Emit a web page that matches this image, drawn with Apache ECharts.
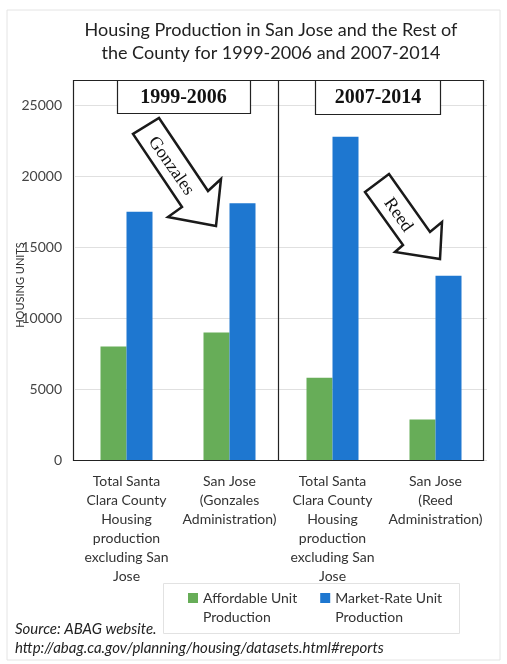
<!DOCTYPE html>
<html>
<head>
<meta charset="utf-8">
<script src="https://cdn.jsdelivr.net/npm/echarts@6/dist/echarts.min.js"></script>
<style>
html,body{margin:0;padding:0;background:#fff;}
#c{width:507px;height:664px;}
</style>
</head>
<body>
<div id="c"></div>
<script>
const categories = [
  "Total Santa\nClara County\nHousing\nproduction\nexcluding San\nJose",
  "San Jose\n(Gonzales\nAdministration)",
  "Total Santa\nClara County\nHousing\nproduction\nexcluding San\nJose",
  "San Jose\n(Reed\nAdministration)"
];
const affordable = [8000, 9000, 5800, 2850];
const marketRate = [17500, 18100, 22800, 13000];
const seriesNames = ["Affordable Unit\nProduction", "Market-Rate Unit\nProduction"];
const titleLines = "Housing Production in San Jose and the Rest of\nthe County for 1999-2006 and 2007-2014";
const periodLabels = ["1999-2006", "2007-2014"];
const mayorLabels = ["Gonzales", "Reed"];
const yAxisTitle = "HOUSING UNITS";
const sourceText = "Source: ABAG website.\nhttp://abag.ca.gov/planning/housing/datasets.html#reports";

const FONT = "Lato";
const chart = echarts.init(document.getElementById('c'), null, {renderer: 'canvas'});

const arrowStyle = {fill: '#fff', stroke: '#1a1a1a', lineWidth: 2.5, lineJoin: 'miter'};

chart.setOption({
  backgroundColor: '#fff',
  animation: false,
  title: {
    text: titleLines,
    left: 266, top: 14, textAlign: 'center',
    textStyle: {fontFamily: FONT, fontSize: 18, fontWeight: 'normal', color: '#222', lineHeight: 23}
  },
  grid: {left: 75, right: 20, top: 80, bottom: 204, containLabel: false},
  legend: {
    left: 163, top: 588.5,
    padding: [0, 19, 0, 25],
    itemGap: 23,
    itemWidth: 10, itemHeight: 29,
    icon: 'path://M0,0H10V10H0Z M0,29L0.001,29',
    textStyle: {fontFamily: FONT, fontSize: 14, color: '#333', lineHeight: 19},
    data: seriesNames
  },
  xAxis: {
    type: 'category',
    data: categories,
    axisLine: {show: false},
    axisTick: {show: false},
    axisLabel: {interval: 0, margin: 12, fontFamily: FONT, fontSize: 14, lineHeight: 19, color: '#333'}
  },
  yAxis: {
    type: 'value',
    min: 0, max: 26800, interval: 5000,
    axisLine: {show: false},
    axisTick: {show: false},
    splitLine: {lineStyle: {color: '#e0e0e0', width: 1}},
    axisLabel: {showMaxLabel: false, margin: 13, fontFamily: FONT, fontSize: 14, color: '#444',
      formatter: function (v) { return String(v); }}
  },
  series: [
    {name: seriesNames[0], type: 'bar', data: affordable, barWidth: 26, barGap: '0%',
     itemStyle: {color: '#67ad58'}},
    {name: seriesNames[1], type: 'bar', data: marketRate, barWidth: 26, barGap: '0%',
     itemStyle: {color: '#1e77d0'}}
  ],
  graphic: [
    {type: 'rect', shape: {x: 7, y: 10, width: 493, height: 650}, style: {fill: 'none', stroke: '#e4e4e4', lineWidth: 1}, z: -1},
    {type: 'rect', shape: {x: 163.5, y: 583.5, width: 296, height: 50}, style: {fill: 'none', stroke: '#e2e2e2', lineWidth: 1}, z: -1},
    {type: 'rect', shape: {x: 73.5, y: 80.5, width: 410, height: 380}, style: {fill: 'none', stroke: '#222', lineWidth: 1.2}, z: 10},
    {type: 'line', shape: {x1: 278.5, y1: 80, x2: 278.5, y2: 461}, style: {stroke: '#222', lineWidth: 1.2}, z: 10},
    {type: 'rect', shape: {x: 117.5, y: 80.5, width: 133, height: 33}, style: {fill: '#fff', stroke: '#222', lineWidth: 1.2}, z: 11},
    {type: 'text', x: 183.5, y: 98, style: {text: periodLabels[0], font: 'bold 20px "Liberation Serif"', fill: '#111', align: 'center', verticalAlign: 'middle'}, z: 12},
    {type: 'rect', shape: {x: 315.5, y: 80.5, width: 125, height: 34}, style: {fill: '#fff', stroke: '#222', lineWidth: 1.2}, z: 11},
    {type: 'text', x: 378, y: 98, style: {text: periodLabels[1], font: 'bold 20px "Liberation Serif"', fill: '#111', align: 'center', verticalAlign: 'middle'}, z: 12},
    {type: 'polygon', shape: {points: [[159,118],[208,191],[221,179],[216,226],[168,217],[182,207],[133,134]]}, style: arrowStyle, z: 11},
    {type: 'text', x: 171, y: 166, rotation: -55 * Math.PI / 180, style: {text: mayorLabels[0], font: '18px "Liberation Serif"', fill: '#111', align: 'center', verticalAlign: 'middle'}, z: 12},
    {type: 'polygon', shape: {points: [[389,174],[430,232],[442,222],[440,259],[395,252],[403,245],[365,192]]}, style: arrowStyle, z: 11},
    {type: 'text', x: 398, y: 215, rotation: -55 * Math.PI / 180, style: {text: mayorLabels[1], font: '18px "Liberation Serif"', fill: '#111', align: 'center', verticalAlign: 'middle'}, z: 12},
    {type: 'text', x: 20, y: 285, rotation: Math.PI / 2, style: {text: yAxisTitle, font: '11px Lato', fill: '#333', align: 'center', verticalAlign: 'middle'}, z: 12},
    {type: 'text', x: 15, y: 620, style: {text: sourceText, font: 'italic 15px Lato', fill: '#222', lineHeight: 19, align: 'left', verticalAlign: 'top'}, z: 12}
  ]
});
</script>
</body>
</html>
